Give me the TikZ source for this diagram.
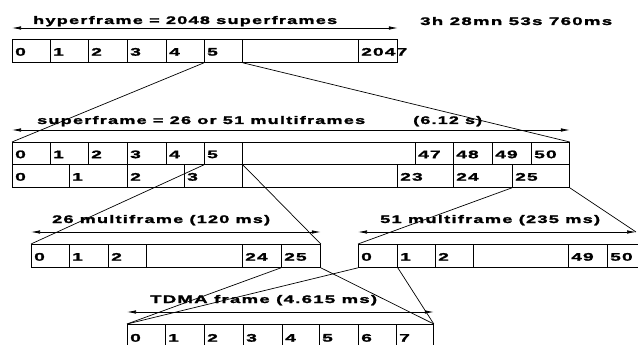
\documentclass[tikz,border=0pt]{standalone}
\usepackage{fontspec}
\usepackage{graphicx}
\setmainfont{Liberation Sans}[FakeStretch=1.45,LetterSpace=10,BoldFeatures={FakeBold=1.8}]
\newfontfamily\digitfont{Liberation Sans}[FakeStretch=1.75,LetterSpace=10,BoldFeatures={FakeBold=1.8}]
\usetikzlibrary{arrows.meta}
\tikzset{
  cellbox/.style={draw, inner sep=0pt, line width=0.8pt},
  num/.style={font=\digitfont\bfseries\fontsize{11}{13}\selectfont, inner sep=0pt, anchor=west},
  lab/.style={font=\bfseries\fontsize{11}{13}\selectfont, inner sep=0pt, anchor=base west},
  conn/.style={line width=0.7pt},
  span/.style={line width=0.7pt, {Latex[length=9pt,width=3.5pt]}-{Latex[length=9pt,width=3.5pt]}}
}
\newcommand\cellat[6]{%
  \node[cellbox, minimum width=#4pt, minimum height=#5pt, anchor=north west] (#1) at (#2,#3) {};
  \node[num] (#1t) at ([xshift=3pt,yshift=-1pt]#1.west) {#6};}
\newcommand\fitw[2]{\resizebox{#1pt}{\height}{#2}}
\begin{document}
\begin{tikzpicture}[x=1pt,y=-1pt]
\useasboundingbox (0,0) rectangle (638,345);
% hyperframe
\cellat{h0}{12}{39}{38}{23}{0}
\cellat{h1}{50}{39}{38}{23}{1}
\cellat{h2}{88}{39}{39}{23}{2}
\cellat{h3}{127}{39}{39}{23}{3}
\cellat{h4}{166}{39}{38}{23}{4}
\cellat{h5}{204}{39}{38}{23}{5}
\cellat{hx}{242}{39}{116}{23}{}
\cellat{h2047}{358}{39}{39}{23}{2047}
\draw[span] ([yshift=11pt]h0.north west) -- ([yshift=11pt]h2047.north east);
\node[lab] (hl) at (33,24) {\fitw{304}{hyperframe = 2048 superframes}};
\node[lab] (ht) at (420,25) {\fitw{192}{3h 28mn 53s 760ms}};
% superframe upper
\cellat{su0}{12}{142}{38}{22}{0}
\cellat{su1}{50}{142}{38}{22}{1}
\cellat{su2}{88}{142}{39}{22}{2}
\cellat{su3}{127}{142}{39}{22}{3}
\cellat{su4}{166}{142}{38}{22}{4}
\cellat{su5}{204}{142}{38}{22}{5}
\cellat{sux}{242}{142}{173}{22}{}
\cellat{su47}{415}{142}{38}{22}{47}
\cellat{su48}{453}{142}{39}{22}{48}
\cellat{su49}{492}{142}{39}{22}{49}
\cellat{su50}{531}{142}{38}{22}{50}
% superframe lower
\cellat{sl0}{12}{164}{57}{23}{0}
\cellat{sl1}{69}{164}{58}{23}{1}
\cellat{sl2}{127}{164}{57}{23}{2}
\cellat{sl3}{184}{164}{58}{23}{3}
\cellat{slx}{242}{164}{155}{23}{}
\cellat{sl23}{397}{164}{56}{23}{23}
\cellat{sl24}{453}{164}{59}{23}{24}
\cellat{sl25}{512}{164}{57}{23}{25}
\draw[span] ([yshift=12pt]su0.north west) -- ([yshift=12pt]su50.north east);
\node[lab] (sl) at (37,124) {\fitw{328}{superframe = 26 or 51 multiframes}};
\node[lab] (st) at (413,124) {\fitw{69}{(6.12 s)}};
\draw[conn] (h5.south west) -- (su0.north west);
\draw[conn] (h5.south east) -- (su50.north east);
% 26 multiframe
\cellat{m0}{31}{244}{38}{23}{0}
\cellat{m1}{69}{244}{39}{23}{1}
\cellat{m2}{108}{244}{38}{23}{2}
\cellat{mx}{146}{244}{96}{23}{}
\cellat{m24}{242}{244}{39}{23}{24}
\cellat{m25}{281}{244}{39}{23}{25}
\draw[span] ([yshift=12pt]m0.north west) -- ([yshift=12pt]m25.north east);
\node[lab] (ml) at (52,223) {\fitw{218}{26 multiframe (120 ms)}};
\draw[conn] (su5.south west) -- (m0.north west);
\draw[conn] (su5.south east) -- (m25.north east);
% 51 multiframe
\cellat{n0}{358}{244}{39}{23}{0}
\cellat{n1}{397}{244}{38}{23}{1}
\cellat{n2}{435}{244}{38}{23}{2}
\cellat{nx}{473}{244}{95}{23}{}
\cellat{n49}{568}{244}{39}{23}{49}
\cellat{n50}{607}{244}{39}{23}{50}
\coordinate (ne) at (636,232);
\draw[span] ([yshift=12pt]n0.north west) -- (ne);
\node[lab] (nl) at (380,223) {\fitw{220}{51 multiframe (235 ms)}};
\draw[conn] (sl25.south west) -- (n0.north west);
\draw[conn] (sl25.south east) -- (ne);
% TDMA
\cellat{t0}{127}{324}{38}{25}{0}
\cellat{t1}{165}{324}{39}{25}{1}
\cellat{t2}{204}{324}{39}{25}{2}
\cellat{t3}{243}{324}{39}{25}{3}
\cellat{t4}{282}{324}{37}{25}{4}
\cellat{t5}{319}{324}{39}{25}{5}
\cellat{t6}{358}{324}{38}{25}{6}
\cellat{t7}{396}{324}{37}{25}{7}
\draw[span] ([yshift=12pt]t0.north west) -- ([yshift=12pt]t7.north east);
\node[lab] (tl) at (150,303) {\fitw{227}{TDMA frame (4.615 ms)}};
\draw[conn] (m25.south west) -- (t0.north west);
\draw[conn] (m25.south east) -- (t7.north east);
\draw[conn] (n0.south west) -- (t0.north west);
\draw[conn] (n0.south east) -- (t7.north east);
\end{tikzpicture}
\end{document}
